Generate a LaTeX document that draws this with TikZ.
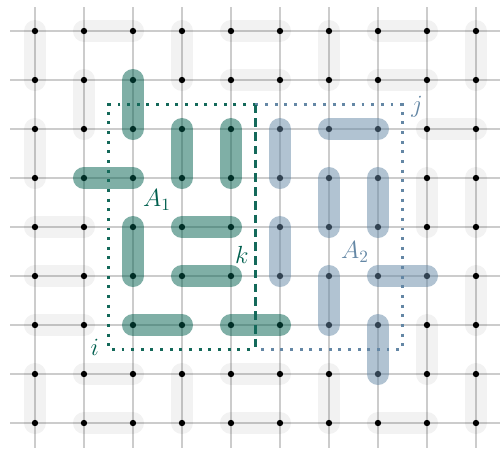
\documentclass[tikz,border=0pt]{standalone}
\usepackage{amsmath}
\usetikzlibrary{positioning}
\definecolor{tealA}{RGB}{0,95,78}
\definecolor{tealL}{RGB}{20,105,90}
\definecolor{slateB}{RGB}{100,135,165}

\begin{document}
\begin{tikzpicture}[x=1cm,y=-1cm,
 every node/.style={align=center},
 vtx/.style={circle,fill=black,inner sep=0pt,minimum size=1.3mm},
 dimer/.style={line width=4.5mm,line cap=round,black,opacity=0.05},
 dimA/.style={dimer,tealA,opacity=0.5},
 dimB/.style={dimer,slateB,opacity=0.5},
 frameA/.style={tealL,line width=1.7pt,dash pattern=on 1.7pt off 3.9pt},
 frameB/.style={slateB,line width=1.7pt,dash pattern=on 1.7pt off 3.9pt},
 cut/.style={tealL,line width=1.2pt,dash pattern=on 5pt off 3pt},
 lab/.style={font=\Large}]
\useasboundingbox (-0.714,-0.633) rectangle (9.531,8.531);
\draw[black!20,line width=0.8pt] (-0.5,-0.5) grid (9.5,8.5);
\foreach \c in {0,...,9}
 \foreach \r in {0,...,8}
  \node[vtx] (v-\c-\r) at (\c,\r) {};
\foreach \a/\b in {0-0/0-1,1-0/2-0,3-0/3-1,4-0/5-0,6-0/6-1,7-0/8-0,9-0/9-1,
 4-1/5-1,7-1/8-1,1-1/1-2,0-2/0-3,8-2/9-2,8-3/8-4,9-3/9-4,
 0-4/1-4,0-5/1-5,9-5/9-6,0-6/1-6,8-6/8-7,0-7/0-8,1-7/2-7,3-7/3-8,
 4-7/5-7,6-7/6-8,9-7/9-8,1-8/2-8,4-8/5-8,7-8/8-8}
 \draw[dimer] (v-\a.center)--(v-\b.center);
\foreach \a/\b in {2-1/2-2,3-2/3-3,4-2/4-3,1-3/2-3,2-4/2-5,3-4/4-4,3-5/4-5,2-6/3-6,4-6/5-6}
 \draw[dimA] (v-\a.center)--(v-\b.center);
\foreach \a/\b in {5-2/5-3,6-2/7-2,6-3/6-4,7-3/7-4,5-4/5-5,6-5/6-6,7-5/8-5,7-6/7-7}
 \draw[dimB] (v-\a.center)--(v-\b.center);
\coordinate (tl) at (1.5,1.5);
\coordinate (tm) at (4.5,1.5);
\coordinate (tr) at (7.5,1.5);
\coordinate (bl) at (1.5,6.5);
\coordinate (bm) at (4.5,6.5);
\coordinate (br) at (7.5,6.5);
\draw[frameA] (tm)--(tl)--(bl)--(bm);
\draw[frameB] (tm)--(tr)--(br)--(bm);
\draw[cut] (tm)--(bm);
\node[lab,text=tealA] (A1) at (2.49,3.45) {$A_1$};
\node[lab,text=tealA] (k) at (4.22,4.57) {$k$};
\node[lab,text=tealA] (i) at (1.22,6.45) {$i$};
\node[lab,text=slateB] (A2) at (6.53,4.51) {$A_2$};
\node[lab,text=slateB] (j) at (7.8,1.55) {$j$};
\end{tikzpicture}
\end{document}
